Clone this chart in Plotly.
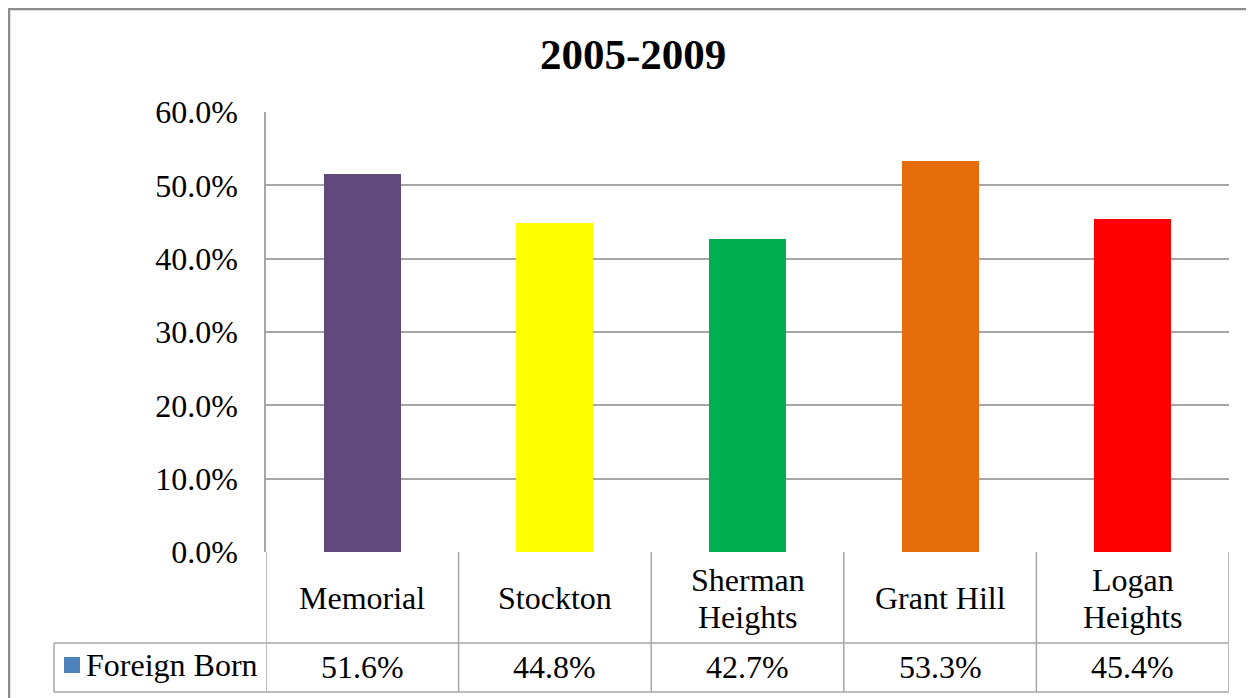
import plotly.graph_objects as go

categories = ["Memorial", "Stockton", "Sherman<br>Heights", "Grant Hill", "Logan<br>Heights"]
values = [0.516, 0.448, 0.427, 0.533, 0.454]
value_labels = ["51.6%", "44.8%", "42.7%", "53.3%", "45.4%"]
bar_colors = ["#604A7B", "#FFFF00", "#00B050", "#E46C0A", "#FF0000"]
series_name = "Foreign Born"
title_text = "2005-2009"
y_ticks = [0, 0.1, 0.2, 0.3, 0.4, 0.5, 0.6]

W, H = 1254, 698
OFF = 8  # page body margin
FONT = "Liberation Serif"
GRID = "#A6A6A6"
TABLE = "#A6A6A6"


def px(x):
    return (x - OFF) / W


def py(y):
    return 1 - (y - OFF) / H


x_idx = list(range(len(categories)))

fig = go.Figure()
fig.add_trace(go.Bar(
    x=x_idx, y=values, width=0.4,
    marker=dict(color=bar_colors, line=dict(width=0)),
    name=series_name, showlegend=False, hoverinfo="skip",
))

PLOT_L, PLOT_R, PLOT_T, PLOT_B = 266, 1229, 112, 552
ROW1_B, ROW2_B = 643, 692
LEG_L = 54

shapes = []
# outer chart border
shapes.append(dict(type="rect", xref="paper", yref="paper",
                   x0=px(9), x1=px(1275), y0=py(9), y1=py(720),
                   line=dict(color="#8C8C8C", width=2.5), fillcolor="rgba(0,0,0,0)", layer="below"))
# table vertical lines at category boundaries
for i in range(len(categories) + 1):
    shapes.append(dict(type="line", xref="x", yref="paper",
                       x0=i - 0.5, x1=i - 0.5, y0=py(PLOT_B), y1=py(ROW2_B),
                       line=dict(color=TABLE, width=1.5)))
# horizontal table lines
for yy in (ROW1_B, ROW2_B):
    shapes.append(dict(type="line", xref="paper", yref="paper",
                       x0=px(LEG_L), x1=px(PLOT_R), y0=py(yy), y1=py(yy),
                       line=dict(color=TABLE, width=1.5)))
# legend cell left border
shapes.append(dict(type="line", xref="paper", yref="paper",
                   x0=px(LEG_L), x1=px(LEG_L), y0=py(ROW1_B), y1=py(ROW2_B),
                   line=dict(color=TABLE, width=1.5)))
# legend key
shapes.append(dict(type="rect", xref="paper", yref="paper",
                   x0=px(64), x1=px(80), y0=py(657), y1=py(673),
                   line=dict(width=0), fillcolor="#4F81BD"))

annotations = []
annotations.append(dict(text=f"<b>{title_text}</b>", xref="paper", yref="paper",
                        x=px(633), y=py(55), xanchor="center", yanchor="middle",
                        showarrow=False, font=dict(family=FONT, size=43, color="#000000")))
LINE_GAP = 37
for i, (c, v) in enumerate(zip(categories, value_labels)):
    lines = c.split("<br>")
    n = len(lines)
    for k, ln in enumerate(lines):
        yc = 598 + (k - (n - 1) / 2) * LINE_GAP
        annotations.append(dict(text=ln, xref="x", yref="paper", x=i, y=py(yc),
                                xanchor="center", yanchor="middle", showarrow=False,
                                font=dict(family=FONT, size=32, color="#000000")))
    annotations.append(dict(text=v, xref="x", yref="paper", x=i, y=py(667),
                            xanchor="center", yanchor="middle", showarrow=False,
                            font=dict(family=FONT, size=32, color="#000000")))
annotations.append(dict(text=series_name, xref="paper", yref="paper", x=px(84), y=py(665),
                        xanchor="left", yanchor="middle", showarrow=False,
                        font=dict(family=FONT, size=32, color="#000000")))

fig.update_layout(
    width=W, height=H,
    margin=dict(l=0, r=0, t=0, b=0),
    paper_bgcolor="white", plot_bgcolor="white",
    showlegend=False,
    xaxis=dict(domain=[px(PLOT_L), px(PLOT_R)], range=[-0.5, len(categories) - 0.5],
               showticklabels=False, showgrid=False, zeroline=False,
               showline=False, fixedrange=True, automargin=False),
    yaxis=dict(domain=[py(PLOT_B), py(PLOT_T)], range=[0, 0.6],
               tickvals=y_ticks, tickformat=".1%",
               showgrid=True, gridcolor=GRID, gridwidth=1.5,
               zeroline=False, showline=True, linecolor=TABLE, linewidth=1.5,
               ticks="", ticklabelstandoff=20, automargin=False,
               tickfont=dict(family=FONT, size=32, color="#000000"), fixedrange=True),
    shapes=shapes, annotations=annotations,
    bargap=0,
)

fig.write_html("out.html")
